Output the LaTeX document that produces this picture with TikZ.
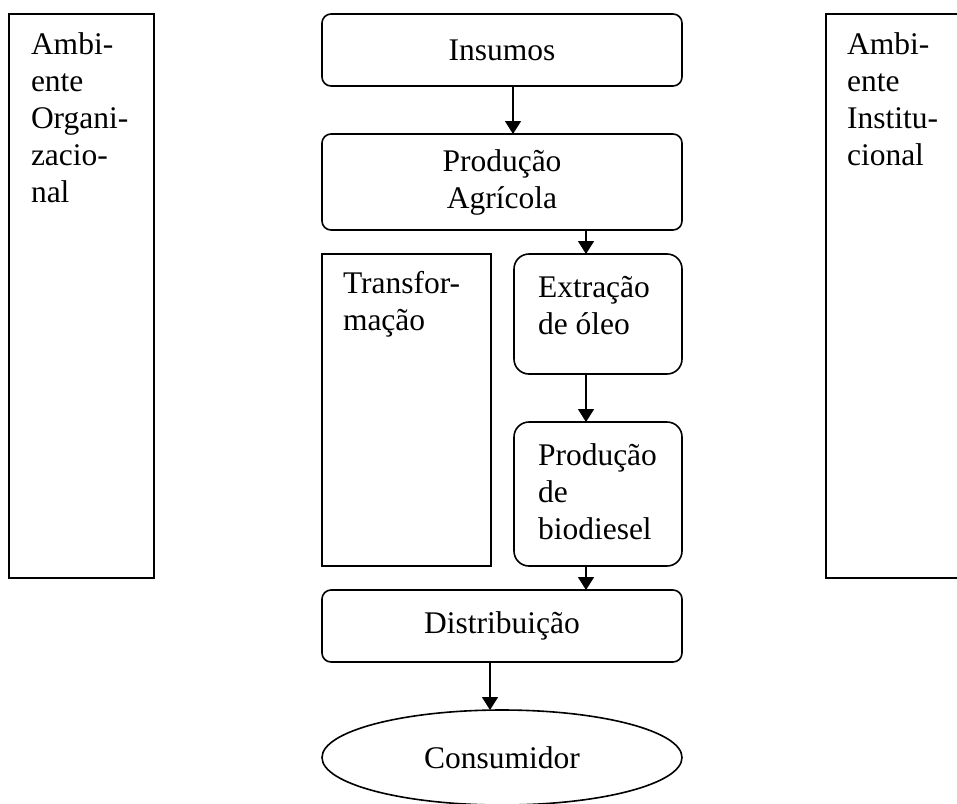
\documentclass[tikz,border=0pt]{standalone}
\usepackage{fontspec}
\setmainfont{Liberation Serif}
\usetikzlibrary{arrows.meta,shapes.geometric}
\newcommand{\chainfont}{\fontsize{31.5}{37}\selectfont}
\tikzstyle{block}=[draw, line width=1.6pt, inner sep=0, outer sep=0, font=\chainfont, align=center]
\tikzstyle{rblock}=[block, rounded corners=9pt]
\tikzstyle{sblock}=[block, rounded corners=15pt]
\tikzstyle{cblock}=[block, ellipse]
\tikzstyle{txt}=[inner sep=0, outer sep=0, anchor=north west, align=left, font=\chainfont]
\tikzstyle{flow}=[line width=1.6pt, -{Triangle[length=13pt,width=16pt]}]

\begin{document}
\begin{tikzpicture}[x=1pt, y=-1pt]
        \useasboundingbox (0,0) rectangle (957,803);
        % environment columns
        \node[block, minimum width=145pt, minimum height=564pt] (Org) at (81.5, 296) {};
        \node[block, minimum width=145pt, minimum height=564pt] (Inst) at (898.5, 296) {};
        \node[txt] (OrgT) at (31, 33) {Ambi-\\ente\\Organi-\\zacio-\\nal};
        \node[txt] (InstT) at (847, 33) {Ambi-\\ente\\Institu-\\cional};
        % chain
        \node[rblock, minimum width=360pt, minimum height=72pt] (Ins) at (502, 50) {Insumos};
        \node[rblock, minimum width=360pt, minimum height=96pt] (Agr) at (502, 182) {\raisebox{-3pt}{Produção}\\\raisebox{-3pt}{Agrícola}};
        \node[block, minimum width=169pt, minimum height=312pt] (Transf) at (406.5, 410) {};
        \node[txt] (TransfT) at (343, 271.5) {Transfor-\\mação};
        \node[sblock, minimum width=168pt, minimum height=120pt] (Ext) at (598, 314) {};
        \node[txt] (ExtT) at (538, 276) {Extração\\de óleo};
        \node[sblock, minimum width=168pt, minimum height=144pt] (Bio) at (598, 494) {};
        \node[txt] (BioT) at (538, 443.5) {Produção\\de\\biodiesel};
        \node[rblock, minimum width=360pt, minimum height=72pt] (Dist) at (502, 626) {Distribuição};
        \node[cblock, minimum width=360pt, minimum height=95pt] (Cons) at (502, 757.5) {Consumidor};
        \draw[flow] ([xshift=11pt]Ins.south) -- ([xshift=11pt]Agr.north);
        \draw[flow] ([xshift=84pt]Agr.south) -- ([xshift=-12pt]Ext.north);
        \draw[flow] ([xshift=-12pt]Ext.south) -- ([xshift=-12pt]Bio.north);
        \draw[flow] ([xshift=-12pt]Bio.south) -- ([xshift=84pt]Dist.north);
        \draw[flow] ([xshift=-12pt]Dist.south) -- ([xshift=-12pt]Cons.north);
\end{tikzpicture}
\end{document}
